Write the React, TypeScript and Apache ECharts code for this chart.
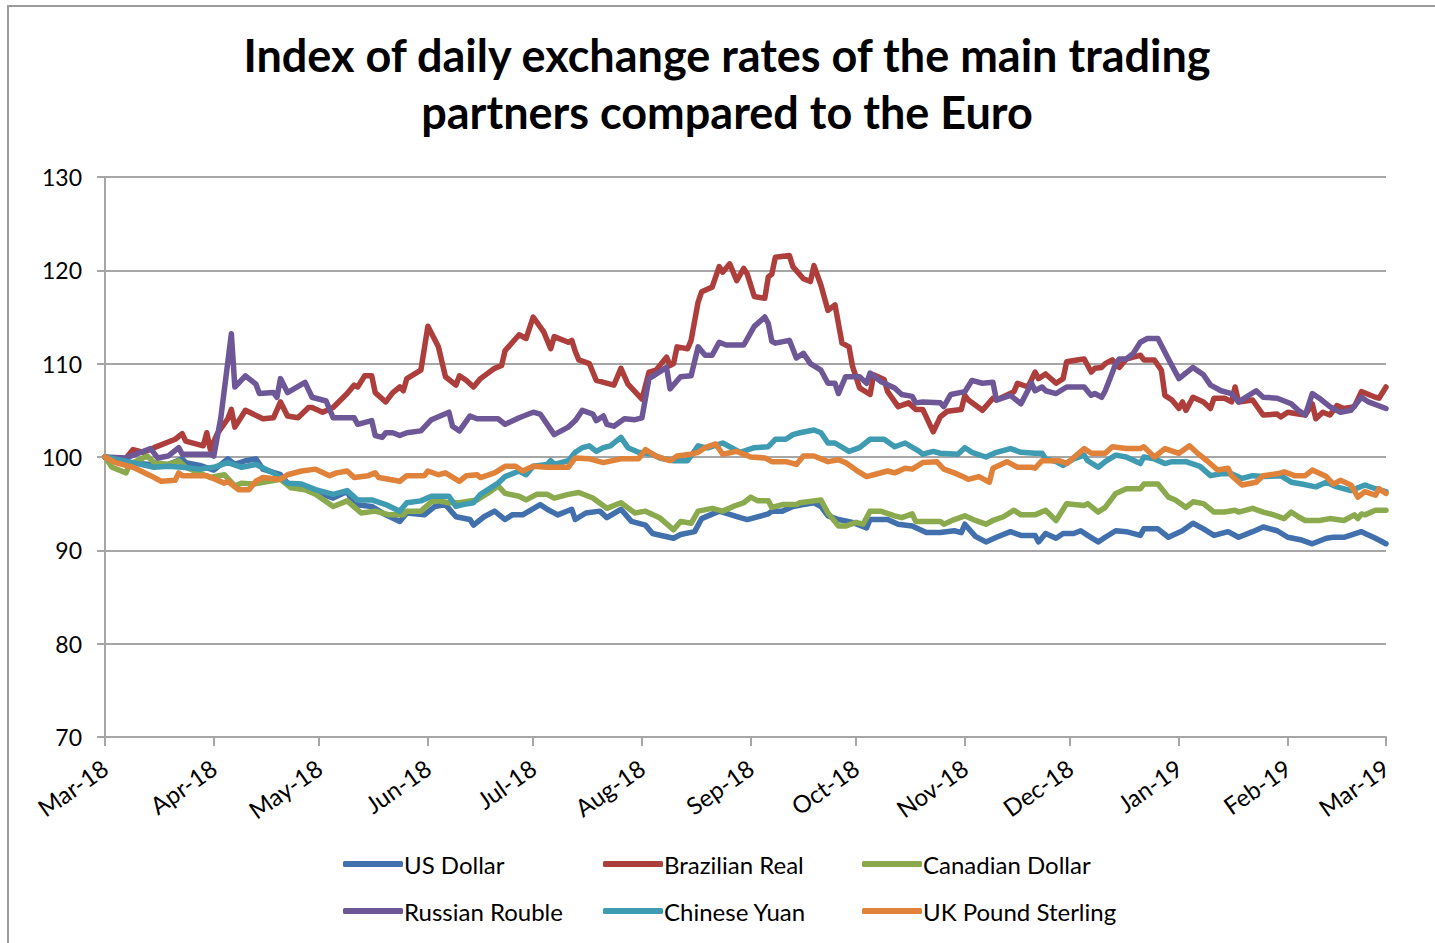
import React, { useEffect, useRef } from "react";
import * as echarts from "echarts";

// x values are days counted from 1 March 2018
const monthTicks = [0, 31, 61, 92, 122, 153, 184, 214, 245, 275, 306, 337, 365];
const monthLabels = ["Mar-18", "Apr-18", "May-18", "Jun-18", "Jul-18", "Aug-18", "Sep-18", "Oct-18", "Nov-18", "Dec-18", "Jan-19", "Feb-19", "Mar-19"];

const seriesNames = ["US Dollar", "Brazilian Real", "Canadian Dollar", "Russian Rouble", "Chinese Yuan", "UK Pound Sterling"];
const seriesColors = ["#4170AD", "#AD3E3B", "#8BA94D", "#6D5796", "#3E9BB2", "#E0823A"];

const usDollar = [[0,100],[6,99.4],[13,99.2],[18,99.2],[22,99.8],[23,99.4],[27,99.1],[31,98.6],[35,99.8],[37,99.2],[40,99.6],[43,99.8],[45,98.7],[50,98.1],[52,97.2],[56,96.9],[60,96.3],[65,95.6],[69,96.3],[71,94.9],[76,94.7],[80,93.8],[84,93.1],[86,94.0],[91,93.8],[94,94.7],[97,94.9],[100,93.6],[104,93.3],[105,92.7],[108,93.6],[111,94.2],[114,93.3],[116,93.8],[119,93.8],[124,94.9],[126,94.4],[129,93.8],[133,94.4],[134,93.3],[137,94.0],[141,94.2],[143,93.5],[147,94.4],[150,93.1],[154,92.7],[156,91.8],[162,91.3],[164,91.7],[168,92.0],[170,93.4],[175,94.2],[181,93.5],[183,93.3],[189,93.9],[190,94.2],[193,94.2],[196,94.7],[199,94.9],[202,95.1],[204,94.7],[206,93.7],[209,93.3],[213,93.0],[217,92.4],[218,93.3],[223,93.3],[226,92.8],[230,92.6],[234,91.9],[238,91.9],[242,92.1],[244,91.9],[245,92.8],[248,91.5],[251,90.9],[254,91.4],[258,92.0],[261,91.6],[265,91.6],[266,90.9],[268,91.8],[271,91.3],[273,91.8],[276,91.8],[278,92.1],[280,91.6],[283,90.9],[285,91.4],[288,92.1],[291,92.0],[295,91.6],[296,92.3],[300,92.3],[303,91.4],[307,92.1],[310,92.9],[313,92.3],[316,91.6],[320,92.0],[323,91.4],[327,92.0],[330,92.5],[334,92.1],[337,91.4],[341,91.1],[344,90.7],[348,91.3],[350,91.4],[353,91.4],[358,92.0],[362,91.3],[365,90.7]];

const brazilianReal = [[0,100],[4,99.6],[6,99.9],[8,100.8],[11,100.5],[14,101.0],[20,101.9],[22,102.5],[23,101.7],[28,101.2],[29,102.6],[30,100.8],[32,102.5],[35,104.1],[36,105.1],[37,103.2],[39,104.4],[40,105.0],[45,104.1],[48,104.2],[50,105.9],[52,104.4],[55,104.2],[58,105.3],[59,105.3],[62,104.8],[65,105.3],[69,106.8],[71,107.7],[72,107.5],[74,108.7],[76,108.7],[77,106.9],[80,105.9],[82,106.9],[84,107.5],[85,107.1],[86,108.4],[90,109.3],[92,114.0],[95,111.8],[97,108.6],[100,107.7],[101,108.7],[103,108.2],[105,107.5],[107,108.4],[111,109.5],[113,109.8],[114,111.4],[118,113.1],[120,112.7],[122,115.0],[125,113.4],[127,111.6],[128,112.9],[132,112.3],[133,112.5],[134,111.3],[135,110.4],[138,110.0],[140,108.2],[145,107.7],[147,109.5],[149,107.8],[153,106.2],[155,109.1],[157,109.3],[160,110.7],[161,109.8],[162,110.0],[163,111.8],[166,111.6],[167,112.5],[169,116.6],[170,117.7],[173,118.2],[175,120.4],[176,119.8],[178,120.7],[180,118.9],[182,120.2],[183,119.6],[185,117.2],[188,117.0],[189,119.3],[190,119.6],[191,121.4],[195,121.6],[196,120.4],[199,119.1],[201,118.8],[202,120.5],[204,118.4],[206,115.7],[208,116.3],[210,112.2],[212,111.8],[213,109.7],[215,107.4],[218,106.7],[219,108.8],[222,108.3],[223,107.0],[226,105.4],[229,105.8],[231,105.1],[233,105.1],[236,102.7],[238,104.3],[240,104.9],[244,105.1],[245,106.6],[246,106.1],[250,105.0],[253,106.3],[254,106.1],[259,107.0],[260,107.9],[263,107.5],[265,109.1],[266,108.4],[268,108.9],[271,107.9],[273,108.4],[274,110.2],[277,110.4],[279,110.5],[281,109.1],[282,109.5],[284,109.6],[285,110.0],[287,110.4],[289,109.6],[291,110.5],[293,110.7],[295,110.9],[296,110.4],[299,110.4],[301,109.3],[302,106.6],[304,106.1],[306,105.2],[307,105.9],[308,105.0],[310,106.4],[313,105.9],[315,105.2],[316,106.3],[319,106.3],[321,105.9],[322,107.5],[323,105.9],[327,106.1],[330,104.5],[334,104.6],[335,104.3],[337,104.8],[340,104.6],[342,104.5],[344,105.7],[345,104.1],[347,104.8],[349,104.5],[351,105.5],[353,105.2],[356,105.4],[358,107.0],[362,106.4],[363,106.3],[365,107.5]];

const canadianDollar = [[0,100],[2,98.9],[6,98.3],[7,99.2],[12,100.1],[14,99.4],[18,99.2],[21,99.6],[23,98.9],[30,97.8],[34,98.1],[37,96.9],[39,97.2],[42,97.1],[44,97.2],[50,97.6],[53,96.7],[57,96.5],[60,96.0],[65,94.7],[69,95.3],[73,94.0],[77,94.2],[81,93.8],[85,93.8],[86,94.2],[90,94.2],[93,95.2],[95,95.3],[98,95.1],[101,95.1],[104,95.3],[106,95.4],[109,96.1],[112,96.9],[114,96.1],[118,95.8],[120,95.4],[123,96.0],[126,96.0],[128,95.6],[132,96.0],[135,96.2],[139,95.6],[143,94.5],[147,95.1],[151,94.0],[154,94.2],[158,93.5],[162,92.2],[164,93.1],[167,92.9],[169,94.2],[173,94.5],[176,94.2],[179,94.7],[182,95.1],[184,95.7],[186,95.3],[189,95.3],[190,94.6],[193,94.9],[197,94.9],[198,95.1],[202,95.3],[204,95.4],[206,94.0],[209,92.6],[211,92.6],[214,93.0],[216,92.8],[218,94.2],[221,94.2],[225,93.7],[227,93.5],[230,93.9],[231,93.1],[238,93.1],[239,92.8],[242,93.3],[245,93.7],[248,93.2],[251,92.8],[253,93.2],[256,93.6],[259,94.3],[261,93.8],[265,93.8],[268,94.3],[271,93.2],[274,95.0],[279,94.8],[280,95.0],[283,94.1],[285,94.6],[288,96.1],[291,96.6],[295,96.6],[296,97.1],[300,97.1],[303,95.7],[305,95.4],[308,94.6],[310,95.2],[313,95.0],[316,94.1],[319,94.1],[322,94.3],[323,94.1],[327,94.5],[330,94.1],[333,93.8],[336,93.4],[338,94.1],[340,93.6],[342,93.2],[346,93.2],[349,93.4],[353,93.2],[356,93.8],[357,93.4],[358,93.9],[359,93.8],[362,94.3],[365,94.3]];

const russianRouble = [[0,100],[6,99.9],[13,100.9],[15,99.9],[18,100.1],[21,101.0],[22,100.3],[30,100.3],[31,100.1],[33,104.2],[36,113.2],[37,107.5],[40,108.7],[43,107.8],[44,106.8],[48,106.9],[49,106.4],[50,108.4],[52,106.9],[57,108.0],[59,106.4],[63,106.0],[65,104.2],[71,104.2],[72,103.5],[76,103.9],[77,102.3],[79,102.1],[80,102.6],[82,102.6],[84,102.3],[86,102.6],[90,102.8],[93,104.0],[98,104.8],[99,103.3],[101,102.8],[104,104.4],[106,104.1],[112,104.1],[114,103.5],[118,104.2],[122,104.8],[124,104.6],[128,102.4],[132,103.2],[134,103.9],[136,105.0],[139,104.6],[140,103.9],[142,104.4],[143,103.5],[145,103.3],[148,104.1],[151,104.0],[153,104.2],[155,108.4],[160,109.6],[161,107.3],[164,108.6],[167,108.7],[169,111.8],[171,110.9],[173,110.9],[175,112.3],[177,112.0],[182,112.0],[185,114.0],[188,115.0],[189,114.3],[190,112.4],[191,112.2],[195,112.5],[197,110.6],[199,111.1],[201,110.0],[204,109.3],[206,107.9],[208,107.9],[209,106.8],[211,108.6],[215,108.6],[217,107.9],[218,109.0],[221,108.1],[225,107.4],[227,106.7],[230,106.5],[231,105.8],[233,105.9],[238,105.8],[239,105.4],[241,106.7],[245,107.0],[247,108.2],[250,107.9],[253,108.0],[254,106.1],[258,106.6],[261,105.7],[264,107.9],[265,107.1],[267,107.5],[268,107.1],[271,106.8],[274,107.5],[279,107.5],[281,106.6],[282,106.8],[284,106.4],[285,107.1],[288,110.0],[289,110.5],[291,110.5],[293,111.1],[295,112.3],[297,112.7],[300,112.7],[303,110.5],[306,108.4],[310,109.6],[313,108.8],[315,107.7],[318,107.1],[321,106.8],[323,105.9],[328,107.1],[330,106.4],[334,106.3],[338,105.7],[340,105.0],[342,104.5],[344,106.8],[346,106.3],[349,105.4],[352,104.8],[355,105.0],[358,106.4],[360,105.9],[365,105.2]];

const chineseYuan = [[0,100],[8,99.4],[14,98.9],[18,99.0],[22,98.9],[27,98.7],[31,98.9],[35,99.4],[39,98.9],[43,99.2],[48,98.3],[52,97.2],[56,97.1],[60,96.5],[65,96.0],[69,96.4],[72,95.4],[76,95.4],[80,94.9],[84,94.2],[86,95.1],[90,95.3],[93,95.8],[98,95.8],[100,94.7],[102,94.9],[105,95.1],[107,96.0],[112,97.2],[114,97.9],[118,98.5],[120,98.1],[122,99.0],[126,99.2],[127,99.6],[128,99.2],[132,99.6],[134,100.5],[136,101.0],[138,101.2],[140,100.6],[142,101.0],[144,101.2],[147,102.1],[149,101.0],[152,100.5],[156,100.3],[158,99.9],[162,99.6],[166,99.6],[169,101.2],[171,101.0],[172,101.0],[176,101.5],[181,100.5],[185,101.0],[189,101.1],[191,101.9],[194,101.9],[196,102.4],[198,102.6],[202,102.9],[204,102.6],[206,101.5],[208,101.5],[212,100.6],[215,101.0],[218,101.9],[222,101.9],[225,101.1],[228,101.5],[232,100.6],[233,100.3],[236,100.6],[238,100.4],[243,100.3],[245,101.0],[247,100.5],[251,100.0],[254,100.5],[258,100.9],[261,100.5],[265,100.4],[267,100.4],[268,99.8],[271,99.5],[273,99.1],[276,99.8],[279,100.2],[280,99.6],[283,98.9],[285,99.5],[288,100.2],[291,100.0],[295,99.3],[296,100.0],[299,99.8],[302,99.3],[304,99.5],[308,99.5],[312,99.0],[315,98.0],[318,98.2],[321,98.2],[324,97.7],[327,98.0],[330,97.9],[335,98.0],[338,97.3],[341,97.1],[345,96.8],[348,97.3],[351,96.8],[355,96.4],[359,97.0],[362,96.6],[365,96.3]];

const ukPound = [[0,100],[3,99.4],[8,98.9],[13,98.0],[16,97.4],[20,97.5],[21,98.3],[22,98.0],[29,98.0],[34,97.2],[35,97.4],[38,96.5],[41,96.5],[43,97.4],[45,97.8],[50,97.6],[52,98.1],[56,98.5],[60,98.7],[64,98.0],[66,98.3],[69,98.5],[71,97.8],[75,98.0],[77,98.3],[78,97.8],[84,97.4],[86,98.0],[91,98.0],[92,98.5],[95,98.1],[97,98.3],[101,97.4],[103,98.0],[106,98.1],[107,97.8],[111,98.3],[114,99.0],[117,99.0],[119,98.5],[122,99.0],[126,98.9],[132,98.9],[134,99.9],[138,99.8],[142,99.4],[147,99.8],[152,99.8],[154,100.8],[157,100.1],[161,99.6],[163,100.1],[167,100.3],[169,100.5],[171,101.0],[174,101.4],[176,100.3],[180,100.6],[184,100.0],[188,99.9],[190,99.5],[194,99.5],[197,99.2],[199,100.1],[202,100.1],[206,99.5],[209,99.7],[211,99.4],[214,98.6],[217,97.9],[219,98.1],[223,98.5],[225,98.3],[228,98.8],[230,98.7],[233,99.4],[237,99.5],[239,98.7],[242,98.3],[245,97.8],[246,97.6],[249,97.9],[252,97.3],[253,98.8],[257,99.5],[260,98.9],[264,98.9],[265,98.8],[267,99.6],[272,99.6],[274,99.3],[279,100.9],[281,100.4],[285,100.4],[287,101.1],[291,100.9],[295,100.9],[296,101.1],[299,100.0],[302,100.9],[306,100.4],[309,101.2],[311,100.5],[314,99.6],[317,98.6],[320,98.8],[321,98.0],[324,97.0],[328,97.3],[330,98.0],[334,98.2],[336,98.4],[339,98.0],[342,98.0],[344,98.6],[348,97.9],[350,97.1],[352,97.5],[355,97.0],[357,95.7],[359,96.3],[362,95.9],[363,96.6],[365,96.1]];

const seriesData = [usDollar, brazilianReal, canadianDollar, russianRouble, chineseYuan, ukPound];

const titleLines = ["Index of daily exchange rates of the main trading", "partners compared to the Euro"];

const FONT = "Lato, 'Open Sans', sans-serif";
const GRID_COLOR = "#a6a6a6";

export default function App() {
  const ref = useRef<HTMLDivElement>(null);

  useEffect(() => {
    if (!ref.current) return;
    const chart = echarts.init(ref.current, null, { renderer: "svg" });

    const legendLefts = [343, 603, 862];
    const legendTops = [852, 899];

    const legends = seriesNames.map((name, i) => ({
      show: true,
      data: [name],
      left: legendLefts[i % 3],
      top: legendTops[Math.floor(i / 3)],
      padding: 0,
      icon: "roundRect",
      itemWidth: 60,
      itemHeight: 6,
      selectedMode: false,
      textStyle: { fontFamily: FONT, fontSize: 24, color: "#000", padding: [0, 0, 0, -4] },
    }));

    chart.setOption({
      animation: false,
      backgroundColor: "#ffffff",
      graphic: [
        {
          type: "rect",
          silent: true,
          z: -10,
          shape: { x: 8, y: 6, width: 1440, height: 950 },
          style: { fill: "none", stroke: "#9c9c9c", lineWidth: 2 },
        },
        {
          type: "text",
          x: 727,
          y: 26,
          silent: true,
          style: {
            text: titleLines.join("\n"),
            fontFamily: FONT,
            fontWeight: "bold",
            fontSize: 45,
            lineHeight: 57,
            align: "center",
            verticalAlign: "top",
            fill: "#000",
          },
        },
      ],
      legend: legends,
      grid: { left: 105, right: 49, top: 177, bottom: 206 },
      xAxis: {
        type: "value",
        min: 0,
        max: 365,
        axisLine: { show: true, lineStyle: { color: GRID_COLOR, width: 2 } },
        axisTick: { show: true, customValues: monthTicks, length: 9, lineStyle: { color: GRID_COLOR, width: 2 } },
        axisLabel: {
          customValues: monthTicks,
          formatter: (v: number) => monthLabels[monthTicks.indexOf(Math.round(v))] ?? "",
          rotate: 35,
          margin: 28,
          fontFamily: FONT,
          fontSize: 24,
          color: "#000",
          showMinLabel: true,
          showMaxLabel: true,
        },
        splitLine: { show: false },
      },
      yAxis: {
        type: "value",
        min: 70,
        max: 130,
        interval: 10,
        axisLine: { show: true, lineStyle: { color: GRID_COLOR, width: 2 } },
        axisTick: { show: true, length: 8, lineStyle: { color: GRID_COLOR, width: 2 } },
        axisLabel: { margin: 23, fontFamily: FONT, fontSize: 23, color: "#000" },
        splitLine: { show: true, lineStyle: { color: GRID_COLOR, width: 2 } },
      },
      series: seriesNames.map((name, i) => ({
        name,
        type: "line",
        data: seriesData[i],
        showSymbol: false,
        symbol: "none",
        color: seriesColors[i],
        lineStyle: { color: seriesColors[i], width: 5.5, join: "round", cap: "round" },
        emphasis: { disabled: true },
      })),
    });

    return () => chart.dispose();
  }, []);

  return (
    <div
      ref={ref}
      style={{ position: "fixed", left: 0, top: 0, width: 1435, height: 943, background: "#fff" }}
    />
  );
}
